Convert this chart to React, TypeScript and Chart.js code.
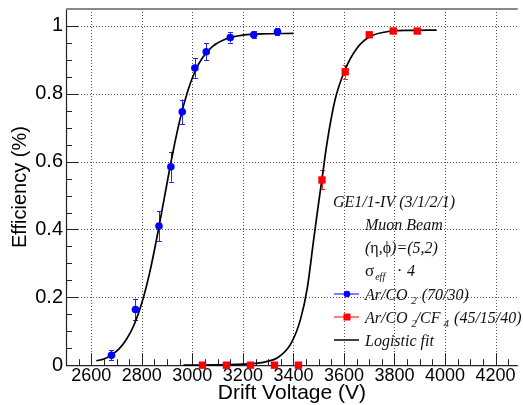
import { useEffect, useRef } from 'react';
import { Chart, registerables } from 'chart.js';

Chart.register(...registerables);

// ---- tick labels ----
const xTicks = [2600, 2800, 3000, 3200, 3400, 3600, 3800, 4000, 4200];
const yTicks = [0, 0.2, 0.4, 0.6, 0.8, 1];
const xMinorStep = 50;
const yMinorStep = 0.05;

// ---- Ar/CO2 (70/30) measurements ----
const arco2Voltage = [2680, 2775, 2868, 2915, 2960, 3010, 3055, 3150, 3243, 3337];
const arco2Eff = [0.029, 0.164, 0.41, 0.585, 0.747, 0.876, 0.924, 0.966, 0.974, 0.983];
const arco2Err = [0.015, 0.032, 0.045, 0.044, 0.036, 0.029, 0.025, 0.015, 0.01, 0.01];

// ---- Ar/CO2/CF4 (45/15/40) measurements ----
const cf4Voltage = [3040, 3135, 3230, 3325, 3420, 3513, 3605, 3700, 3795, 3890];
const cf4Eff = [0, 0, 0, 0, 0, 0.546, 0.865, 0.974, 0.985, 0.985];
const cf4Err = [0, 0, 0, 0, 0, 0.028, 0.02, 0.008, 0.005, 0.005];

// ---- logistic fit curves ----
const arco2FitVoltage = [2620, 2650, 2680, 2710, 2740, 2770, 2800, 2830, 2860, 2890, 2920, 2950, 2980, 3010, 3040, 3080, 3130, 3200, 3300, 3400];
const arco2FitEff = [0.013, 0.018, 0.03, 0.048, 0.077, 0.12, 0.183, 0.269, 0.377, 0.497, 0.616, 0.721, 0.804, 0.865, 0.906, 0.94, 0.961, 0.973, 0.977, 0.978];
const cf4FitVoltage = [2965, 3100, 3200, 3260, 3300, 3337, 3389, 3428, 3455, 3481, 3500, 3513, 3533, 3565, 3605, 3650, 3702, 3780, 3870, 3967];
const cf4FitEff = [0, 0.001, 0.003, 0.006, 0.012, 0.022, 0.062, 0.135, 0.228, 0.375, 0.48, 0.548, 0.655, 0.783, 0.872, 0.933, 0.968, 0.984, 0.987, 0.988];

const SANS = '"Liberation Sans", Arial, Helvetica, sans-serif';
const SERIF = '"Liberation Serif", "Times New Roman", serif';

const gridPlugin = {
  id: 'rootGrid',
  beforeDatasetsDraw(chart: any) {
    const { ctx, chartArea, scales } = chart;
    const { left, right, top, bottom } = chartArea;
    const xs = scales.x;
    const ys = scales.y;
    ctx.save();
    // dotted grid
    ctx.strokeStyle = '#555';
    ctx.lineWidth = 1;
    ctx.setLineDash([1, 2]);
    for (const v of xTicks) {
      const px = Math.round(xs.getPixelForValue(v)) + 0.5;
      ctx.beginPath();
      ctx.moveTo(px, top);
      ctx.lineTo(px, bottom);
      ctx.stroke();
    }
    for (const v of yTicks) {
      if (v === 0) continue;
      const py = Math.round(ys.getPixelForValue(v)) + 0.5;
      ctx.beginPath();
      ctx.moveTo(left, py);
      ctx.lineTo(right, py);
      ctx.stroke();
    }
    ctx.setLineDash([]);
    // tick marks
    ctx.strokeStyle = '#222';
    ctx.lineWidth = 1;
    const xmin = xs.min, xmax = xs.max;
    for (let v = Math.ceil(xmin / xMinorStep) * xMinorStep; v <= xmax; v += xMinorStep) {
      const major = v % 200 === 0;
      const px = Math.round(xs.getPixelForValue(v)) + 0.5;
      ctx.beginPath();
      ctx.moveTo(px, bottom);
      ctx.lineTo(px, bottom - (major ? 12 : 6));
      ctx.stroke();
    }
    for (let i = 0; i * yMinorStep <= ys.max + 1e-9; i++) {
      const v = i * yMinorStep;
      const major = i % 4 === 0;
      const py = Math.round(ys.getPixelForValue(v)) + 0.5;
      ctx.beginPath();
      ctx.moveTo(left, py);
      ctx.lineTo(left + (major ? 12 : 6), py);
      ctx.stroke();
    }
    // axes
    ctx.strokeStyle = '#222';
    ctx.lineWidth = 1.2;
    ctx.beginPath();
    ctx.moveTo(left + 0.5, top);
    ctx.lineTo(left + 0.5, bottom + 0.5);
    ctx.lineTo(right, bottom + 0.5);
    ctx.stroke();
    // top frame
    ctx.strokeStyle = '#888';
    ctx.lineWidth = 2;
    ctx.beginPath();
    ctx.moveTo(left, top);
    ctx.lineTo(right, top);
    ctx.stroke();
    // error bars
    chart.data.datasets.forEach((ds: any) => {
      if (!ds.errors) return;
      ctx.strokeStyle = ds.errColor;
      ctx.lineWidth = 1;
      ds.data.forEach((p: any, i: number) => {
        const e = ds.errors[i];
        if (!e) return;
        const px = Math.round(xs.getPixelForValue(p.x)) + 0.5;
        const y1 = ys.getPixelForValue(p.y - e);
        const y2 = ys.getPixelForValue(p.y + e);
        ctx.beginPath();
        ctx.moveTo(px, y1);
        ctx.lineTo(px, y2);
        ctx.moveTo(px - 2.5, Math.round(y1) + 0.5);
        ctx.lineTo(px + 2.5, Math.round(y1) + 0.5);
        ctx.moveTo(px - 2.5, Math.round(y2) + 0.5);
        ctx.lineTo(px + 2.5, Math.round(y2) + 0.5);
        ctx.stroke();
      });
    });
    ctx.restore();
  },
};

const textPlugin = {
  id: 'rootText',
  afterDraw(chart: any) {
    const { ctx } = chart;
    ctx.save();
    ctx.fillStyle = '#111';
    ctx.textBaseline = 'alphabetic';
    ctx.textAlign = 'left';
    const main = `italic 16px ${SERIF}`;
    const upright = `16px ${SERIF}`;
    const sub = `italic 11px ${SERIF}`;
    const put = (t: string, x: number, y: number, f: string) => {
      ctx.font = f;
      ctx.fillText(t, x, y);
      return x + ctx.measureText(t).width;
    };
    const tx = 365;
    put('GE1/1-IV (3/1/2/1)', 333, 207, main);
    put('Muon Beam', tx, 230, main);
    let x = put('(', tx, 253, main);
    x = put('\u03b7', x, 253, upright);
    x = put(',', x, 253, main);
    x = put('\u03d5', x, 253, upright);
    put(')=(5,2)', x, 253, main);
    x = put('\u03c3', tx, 276, `17px ${SERIF}`);
    put('eff', x + 1, 280, `italic 10px ${SERIF}`);
    put('\u00b7', 397, 276, upright);
    put('4', 407, 276, main);

    // legend rows
    const rows = [299.5, 322.5, 345.5];
    // row 1
    x = put('Ar/CO', tx, rows[0], main);
    x = put('2', x + 3.5, rows[0] + 4, sub);
    put(' (70/30)', x + 1, rows[0], main);
    // row 2
    x = put('Ar/CO', tx, rows[1], main);
    x = put('2', x + 3.5, rows[1] + 4, sub);
    x = put('/CF', x - 1, rows[1], main);
    x = put('4', x + 3, rows[1] + 4, sub);
    put(' (45/15/40)', x + 1, rows[1], main);
    // row 3
    put('Logistic fit', tx, rows[2], main);

    // symbols
    const sy = rows.map((r) => r - 5.5);
    ctx.lineWidth = 1;
    ctx.strokeStyle = '#0000ff';
    ctx.beginPath(); ctx.moveTo(334, sy[0]); ctx.lineTo(359, sy[0]); ctx.stroke();
    ctx.fillStyle = '#0000ff';
    ctx.beginPath(); ctx.arc(347, sy[0], 3.3, 0, Math.PI * 2); ctx.fill();
    ctx.strokeStyle = '#ff0000';
    ctx.beginPath(); ctx.moveTo(334, sy[1]); ctx.lineTo(359, sy[1]); ctx.stroke();
    ctx.fillStyle = '#ff0000';
    ctx.fillRect(343.5, sy[1] - 3.5, 7, 7);
    ctx.strokeStyle = '#111';
    ctx.lineWidth = 1.6;
    ctx.beginPath(); ctx.moveTo(334, sy[2]); ctx.lineTo(359, sy[2]); ctx.stroke();
    ctx.restore();
  },
};

export default function App() {
  const ref = useRef<HTMLCanvasElement>(null);
  useEffect(() => {
    document.body.style.margin = '0';
    const canvas = ref.current!;
    const chart = new Chart(canvas, {
      type: 'line',
      data: {
        datasets: [
          {
            label: 'Ar/CO2 (70/30)',
            data: arco2Voltage.map((v, i) => ({ x: v, y: arco2Eff[i] })),
            showLine: false,
            pointStyle: 'circle',
            pointRadius: 3.8,
            pointBackgroundColor: '#0000ff',
            pointBorderWidth: 0,
            clip: false,
            errors: arco2Err,
            errColor: '#2222ff',
          } as any,
          {
            label: 'Ar/CO2/CF4 (45/15/40)',
            data: cf4Voltage.map((v, i) => ({ x: v, y: cf4Eff[i] })),
            showLine: false,
            pointStyle: 'rect',
            pointRadius: 5.2,
            pointBackgroundColor: '#ff0000',
            pointBorderWidth: 0,
            clip: false,
            errors: cf4Err,
            errColor: '#ff2222',
          } as any,
          {
            label: 'fit1',
            data: arco2FitVoltage.map((v, i) => ({ x: v, y: arco2FitEff[i] })),
            borderColor: '#000',
            borderWidth: 1.7,
            pointRadius: 0,
            cubicInterpolationMode: 'monotone',
            clip: false,
          } as any,
          {
            label: 'fit2',
            data: cf4FitVoltage.map((v, i) => ({ x: v, y: cf4FitEff[i] })),
            borderColor: '#000',
            borderWidth: 1.7,
            pointRadius: 0,
            cubicInterpolationMode: 'monotone',
            clip: false,
          } as any,
        ],
      },
      options: {
        animation: false,
        responsive: false,
        devicePixelRatio: 1,
        layout: { padding: { left: 8.2, top: 9, right: 0, bottom: 0 } },
        plugins: { legend: { display: false }, tooltip: { enabled: false } },
        scales: {
          x: {
            type: 'linear',
            min: 2500,
            max: 4288,
            afterBuildTicks: (s: any) => { s.ticks = xTicks.map((v) => ({ value: v })); },
            grid: { display: false, drawTicks: false },
            border: { display: false },
            ticks: {
              color: '#000',
              padding: 0,
              font: { family: SANS, size: 18, lineHeight: 1.2 },
              maxRotation: 0,
              autoSkip: false,
              callback: (v: any) => String(v),
            },
            title: {
              display: true,
              text: 'Drift Voltage (V)',
              color: '#000',
              font: { family: SANS, size: 21, lineHeight: 0.63 },
              padding: { top: 0, bottom: 5 },
            },
          },
          y: {
            type: 'linear',
            min: 0,
            max: 1.05,
            afterBuildTicks: (s: any) => { s.ticks = yTicks.map((v) => ({ value: v })); },
            grid: { display: false, drawTicks: false },
            border: { display: false },
            ticks: {
              color: '#000',
              padding: 3,
              font: { family: SANS, size: 20, lineHeight: 0.5 },
              autoSkip: false,
              callback: (v: any) => String(v),
            },
            title: {
              display: true,
              text: 'Efficiency (%)',
              color: '#000',
              font: { family: SANS, size: 20, lineHeight: 1.2 },
              padding: { top: 0, bottom: 0 },
            },
          },
        },
      },
      plugins: [gridPlugin, textPlugin],
    } as any);
    return () => chart.destroy();
  }, []);
  return (
    <div style={{ width: 523, height: 405 }}>
      <canvas ref={ref} width={523} height={405} style={{ display: 'block' }} />
    </div>
  );
}
